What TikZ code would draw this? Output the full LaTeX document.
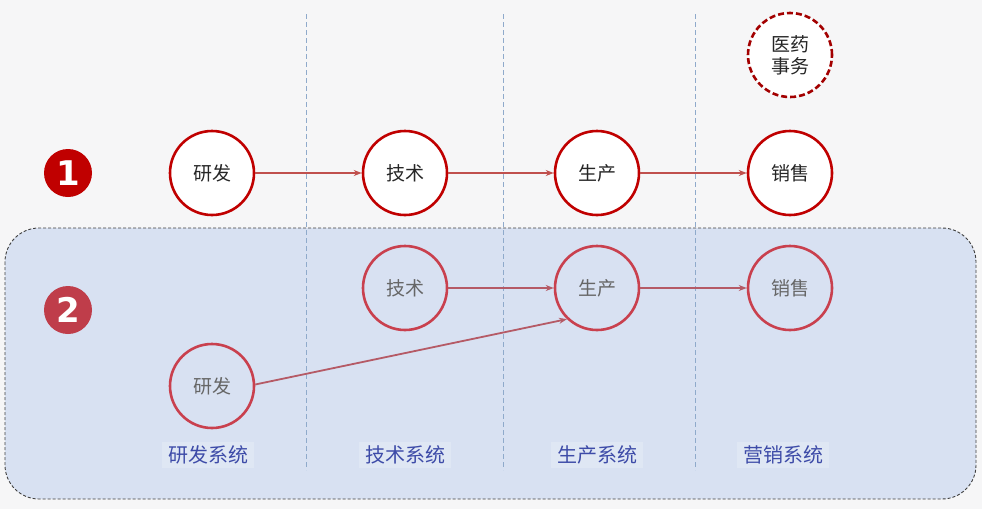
\documentclass[tikz,border=0pt]{standalone}
\usepackage{fontspec}
\newfontfamily\cjk{Noto Sans CJK SC}
\setmainfont{DejaVu Sans}
\usetikzlibrary{arrows.meta}
\definecolor{bgpage}{HTML}{F6F6F7}
\definecolor{panel}{HTML}{D8E1F2}
\definecolor{deepred}{HTML}{C00000}
\definecolor{softred}{HTML}{C9404E}
\definecolor{arrowred}{HTML}{C0504D}
\definecolor{arrowsoft}{HTML}{B55A66}
\definecolor{labelblue}{HTML}{3D4BA8}
\definecolor{gridblue}{HTML}{8FAACB}
\tikzset{
  x=1pt, y=-1pt,
  topnode/.style={circle, draw=deepred, line width=2.6pt, fill=white, minimum size=84pt, inner sep=0pt, font=\cjk\fontsize{19}{21}\selectfont, text=black!85},
  lownode/.style={circle, draw=softred, line width=2.6pt, minimum size=84pt, inner sep=0pt, font=\cjk\fontsize{19}{21}\selectfont, text=black!60},
  flow/.style={draw=arrowred, line width=1.8pt, -{Stealth[length=8pt,width=6pt]}},
  flowsoft/.style={draw=arrowsoft, line width=1.8pt, -{Stealth[length=8pt,width=6pt]}},
  syslabel/.style={font=\cjk\fontsize{20}{22}\selectfont, text=labelblue, fill=white, fill opacity=0.2, text opacity=1, inner xsep=6pt, inner ysep=4pt},
  divider/.style={draw=gridblue, line width=0.9pt, dash pattern=on 5pt off 3pt},
  badge/.style={circle, minimum size=48pt, inner sep=0pt, text=white, font=\bfseries\fontsize{34}{34}\selectfont}
}
\begin{document}
\begin{tikzpicture}
\useasboundingbox (0,0) rectangle (982,509);
\fill[bgpage] (0,0) rectangle (982,509);
% panel
\draw[fill=panel, draw=black!75, line width=0.9pt, dash pattern=on 3pt off 2pt, rounded corners=34pt] (5,228) rectangle (976,499);
% dividers
\coordinate (d1t) at (306,14); \coordinate (d1b) at (306,470);
\coordinate (d2t) at (503,14); \coordinate (d2b) at (503,470);
\coordinate (d3t) at (695,14); \coordinate (d3b) at (695,470);
\draw[divider] (d1t) -- (d1b);
\draw[divider] (d2t) -- (d2b);
\draw[divider] (d3t) -- (d3b);
% badges
\node[badge, fill=deepred] (b1) at (68,173) {1};
\node[badge, fill=softred!95!black] (b2) at (68,310) {2};
% top row
\node[topnode] (r1) at (212,173) {研发};
\node[topnode] (t1) at (405,173) {技术};
\node[topnode] (p1) at (597,173) {生产};
\node[topnode] (s1) at (790,173) {销售};
\node[topnode, draw=deepred!85!black, dash pattern=on 6pt off 3pt, align=center, font=\cjk\fontsize{19}{22}\selectfont] (m1) at (790,55) {医药\\事务};
\draw[flow] (r1) -- (t1);
\draw[flow] (t1) -- (p1);
\draw[flow] (p1) -- (s1);
% second row
\node[lownode] (t2) at (405,288) {技术};
\node[lownode] (p2) at (597,288) {生产};
\node[lownode] (s2) at (790,288) {销售};
\node[lownode] (r2) at (212,386) {研发};
\draw[flowsoft] (t2) -- (p2);
\draw[flowsoft] (p2) -- (s2);
\draw[flowsoft] (r2.2) -- (p2.226);
% labels
\node[syslabel] (l1) at (208,455) {研发系统};
\node[syslabel] (l2) at (405,455) {技术系统};
\node[syslabel] (l3) at (597,455) {生产系统};
\node[syslabel] (l4) at (783,455) {营销系统};
\end{tikzpicture}
\end{document}
